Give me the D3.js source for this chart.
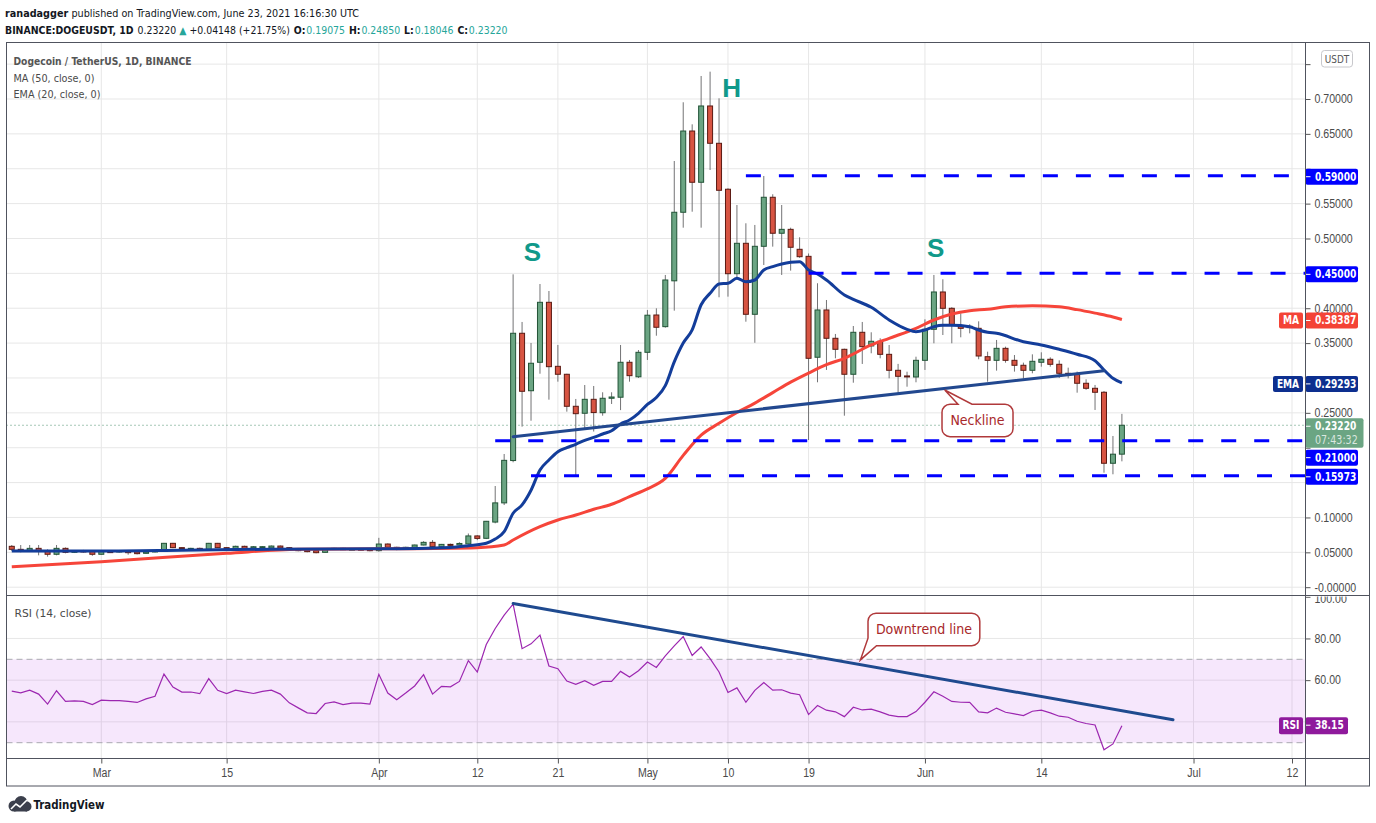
<!DOCTYPE html>
<html>
<head>
<meta charset="utf-8">
<script src="https://cdn.jsdelivr.net/npm/d3@7"></script>
<style>
  html, body { margin: 0; padding: 0; background: #fff; }
  svg { display: block; font-family: "Liberation Sans Narrow", "DejaVu Sans Condensed", "Liberation Sans", sans-serif; }
</style>
</head>
<body>
<svg id="chart" width="1376" height="823"></svg>
<script>
// ---- data ----
// daily candles, Feb 19 .. Jun 23 2021
const firstDay = "2021-02-19";
const lastDay = "2021-06-23";

const opens = [
  0.0586, 0.0543, 0.0528, 0.0557, 0.0524, 0.0472, 0.0557, 0.0500, 0.0520, 0.0510,
  0.0472, 0.0510, 0.0505, 0.0517, 0.0505, 0.0486, 0.0505, 0.0519, 0.0629, 0.0567,
  0.0548, 0.0557, 0.0543, 0.0629, 0.0567, 0.0557, 0.0586, 0.0562, 0.0570, 0.0562,
  0.0590, 0.0567, 0.0548, 0.0533, 0.0524, 0.0500, 0.0543, 0.0557, 0.0540, 0.0545, 0.0538,
  0.0524, 0.0619, 0.0572, 0.0543, 0.0572, 0.0605, 0.0643, 0.0581, 0.0614, 0.0605,
  0.0620, 0.0735, 0.0701, 0.0934, 0.1209, 0.1816, 0.3641, 0.2817, 0.3225, 0.4085,
  0.3167, 0.3053, 0.2594, 0.2494, 0.2694, 0.2502, 0.2709, 0.2724, 0.3225, 0.3017,
  0.3368, 0.3903, 0.3736, 0.4393, 0.5376, 0.6541, 0.5806, 0.6900, 0.6365, 0.5706,
  0.4495, 0.4931, 0.3913, 0.4888, 0.5591, 0.5075, 0.5131, 0.4845, 0.4744, 0.3297,
  0.3975, 0.3569, 0.3411, 0.3053, 0.3655, 0.3459, 0.3526, 0.3339, 0.3110, 0.3029, 0.3014,
  0.3253, 0.3698, 0.4233, 0.3999, 0.3745, 0.3722, 0.3712, 0.3305, 0.3253, 0.3425,
  0.3253, 0.3182, 0.3110, 0.3225, 0.3268, 0.3196, 0.3067, 0.3053, 0.2924, 0.2852,
  0.2795, 0.1777, 0.19075
];
const highs = [
  0.0605, 0.0605, 0.0605, 0.0605, 0.0543, 0.0605, 0.0570, 0.0530, 0.0535, 0.0520,
  0.0520, 0.0520, 0.0530, 0.0530, 0.0510, 0.0515, 0.0530, 0.0635, 0.0635, 0.0575,
  0.0565, 0.0567, 0.0635, 0.0635, 0.0575, 0.0595, 0.0595, 0.0590, 0.0590, 0.0598,
  0.0598, 0.0575, 0.0552, 0.0540, 0.0530, 0.0550, 0.0565, 0.0565, 0.0552, 0.0552, 0.0550,
  0.0708, 0.0629, 0.0580, 0.0580, 0.0610, 0.0660, 0.0676, 0.0620, 0.0625, 0.0645,
  0.0770, 0.0745, 0.0950, 0.1451, 0.1910, 0.4486, 0.3803, 0.3502, 0.4347, 0.4247,
  0.3473, 0.3060, 0.2699, 0.2899, 0.2885, 0.2795, 0.2795, 0.3473, 0.3258, 0.3401,
  0.3974, 0.3999, 0.4477, 0.6111, 0.6953, 0.6637, 0.7330, 0.7392, 0.7010, 0.5720,
  0.5480, 0.5218, 0.5194, 0.5896, 0.5634, 0.5480, 0.5155, 0.5017, 0.4785, 0.4358,
  0.4118, 0.3631, 0.3420, 0.3745, 0.3803, 0.3655, 0.3569, 0.3473, 0.3202, 0.3090, 0.3305,
  0.3841, 0.4477, 0.4415, 0.4015, 0.3927, 0.3770, 0.3812, 0.3377, 0.3545, 0.3449,
  0.3329, 0.3220, 0.3339, 0.3368, 0.3296, 0.3253, 0.3148, 0.3091, 0.2981, 0.2900,
  0.2813, 0.2168, 0.24850
];
const lows = [
  0.0520, 0.0500, 0.0510, 0.0457, 0.0438, 0.0457, 0.0486, 0.0490, 0.0495, 0.0450,
  0.0465, 0.0490, 0.0495, 0.0466, 0.0470, 0.0480, 0.0500, 0.0510, 0.0560, 0.0550,
  0.0540, 0.0530, 0.0538, 0.0562, 0.0545, 0.0550, 0.0550, 0.0555, 0.0560, 0.0558,
  0.0555, 0.0538, 0.0515, 0.0500, 0.0486, 0.0495, 0.0538, 0.0533, 0.0533, 0.0530, 0.0515,
  0.0510, 0.0560, 0.0530, 0.0538, 0.0565, 0.0600, 0.0570, 0.0575, 0.0595, 0.0600,
  0.0610, 0.0675, 0.0690, 0.0916, 0.1178, 0.1791, 0.2302, 0.2387, 0.3061, 0.2689,
  0.2947, 0.2517, 0.15973, 0.2279, 0.2232, 0.2459, 0.2627, 0.2539, 0.2947, 0.3000,
  0.3258, 0.3606, 0.3721, 0.3965, 0.5155, 0.5384, 0.5155, 0.5982, 0.4157, 0.4166,
  0.4430, 0.3807, 0.3505, 0.4620, 0.4883, 0.4477, 0.4539, 0.4722, 0.2110, 0.2938,
  0.3115, 0.3282, 0.2459, 0.2932, 0.3201, 0.3354, 0.3282, 0.2995, 0.2789, 0.2875, 0.2938,
  0.3115, 0.3497, 0.3616, 0.3497, 0.3583, 0.3640, 0.3268, 0.2946, 0.3105, 0.3219,
  0.3091, 0.2990, 0.3067, 0.3162, 0.3162, 0.3000, 0.2994, 0.2789, 0.2830, 0.2541,
  0.1642, 0.1619, 0.18046
];
const closes = [
  0.0543, 0.0524, 0.0557, 0.0524, 0.0472, 0.0557, 0.0500, 0.0520, 0.0505, 0.0472,
  0.0510, 0.0500, 0.0520, 0.0495, 0.0481, 0.0505, 0.0524, 0.0629, 0.0567, 0.0557,
  0.0557, 0.0538, 0.0629, 0.0567, 0.0552, 0.0586, 0.0557, 0.0580, 0.0581, 0.0590,
  0.0562, 0.0543, 0.0524, 0.0510, 0.0495, 0.0543, 0.0557, 0.0538, 0.0545, 0.0538, 0.0530,
  0.0619, 0.0572, 0.0543, 0.0572, 0.0605, 0.0643, 0.0581, 0.0614, 0.0605, 0.0627,
  0.0735, 0.0700, 0.0945, 0.1209, 0.1819, 0.3641, 0.2809, 0.3211, 0.4085, 0.3162,
  0.3053, 0.2594, 0.2488, 0.2694, 0.2504, 0.2709, 0.2727, 0.3225, 0.3033, 0.3368,
  0.3900, 0.3727, 0.4405, 0.5376, 0.6541, 0.5806, 0.6900, 0.6365, 0.5691, 0.4495,
  0.4931, 0.3913, 0.4888, 0.5591, 0.5075, 0.5131, 0.4874, 0.4739, 0.3282, 0.3975,
  0.3569, 0.3411, 0.3053, 0.3655, 0.3449, 0.3526, 0.3339, 0.3110, 0.3024, 0.3015, 0.3253,
  0.3698, 0.4233, 0.3999, 0.3760, 0.3712, 0.3741, 0.3315, 0.3253, 0.3425, 0.3253,
  0.3182, 0.3110, 0.3239, 0.3268, 0.3196, 0.3067, 0.3053, 0.2924, 0.2852, 0.2795,
  0.1777, 0.19072, 0.23220
];

// EMA (20) and MA (50), read as [date, value]
const emaPoints = [
  ["2021-02-19", 0.0520], ["2021-03-01", 0.0519], ["2021-03-10", 0.0530], ["2021-03-20", 0.0545],
  ["2021-04-01", 0.0550], ["2021-04-09", 0.0570], ["2021-04-11", 0.0595], ["2021-04-13", 0.0630],
  ["2021-04-14", 0.0690], ["2021-04-15", 0.0796], ["2021-04-16", 0.1060], ["2021-04-17", 0.1180],
  ["2021-04-18", 0.1390], ["2021-04-19", 0.1680], ["2021-04-20", 0.1824], ["2021-04-21", 0.1943],
  ["2021-04-22", 0.2000], ["2021-04-23", 0.2049], ["2021-04-24", 0.2106], ["2021-04-25", 0.2149],
  ["2021-04-26", 0.2197], ["2021-04-27", 0.2244], ["2021-04-28", 0.2340], ["2021-04-29", 0.2398],
  ["2021-04-30", 0.2494], ["2021-05-01", 0.2620], ["2021-05-02", 0.2720], ["2021-05-03", 0.2890],
  ["2021-05-04", 0.3230], ["2021-05-05", 0.3500], ["2021-05-06", 0.3690], ["2021-05-07", 0.4050],
  ["2021-05-08", 0.4214], ["2021-05-09", 0.4348], ["2021-05-10", 0.4358], ["2021-05-11", 0.4429],
  ["2021-05-12", 0.4380], ["2021-05-13", 0.4405], ["2021-05-14", 0.4548], ["2021-05-15", 0.4596],
  ["2021-05-16", 0.4634], ["2021-05-17", 0.4659], ["2021-05-18", 0.4668], ["2021-05-19", 0.4548],
  ["2021-05-20", 0.4491], ["2021-05-21", 0.4405], ["2021-05-23", 0.4190], ["2021-05-24", 0.4128],
  ["2021-05-26", 0.4013], ["2021-05-28", 0.3832], ["2021-05-30", 0.3698], ["2021-05-31", 0.3664],
  ["2021-06-01", 0.3688], ["2021-06-02", 0.3735], ["2021-06-03", 0.3755], ["2021-06-04", 0.3755],
  ["2021-06-06", 0.3735], ["2021-06-07", 0.3688], ["2021-06-08", 0.3655], ["2021-06-09", 0.3640],
  ["2021-06-12", 0.3520], ["2021-06-14", 0.3473], ["2021-06-16", 0.3411], ["2021-06-18", 0.3340],
  ["2021-06-20", 0.3248], ["2021-06-21", 0.3115], ["2021-06-22", 0.2995], ["2021-06-23", 0.29293]
];
const maPoints = [
  ["2021-02-19", 0.0294], ["2021-03-01", 0.0366], ["2021-03-15", 0.0486], ["2021-03-23", 0.0543],
  ["2021-04-01", 0.0550], ["2021-04-12", 0.0567], ["2021-04-15", 0.0605], ["2021-04-16", 0.0677],
  ["2021-04-19", 0.0868], ["2021-04-21", 0.0964], ["2021-04-23", 0.1035], ["2021-04-25", 0.1117],
  ["2021-04-27", 0.1189], ["2021-04-29", 0.1300], ["2021-05-01", 0.1410], ["2021-05-03", 0.1560],
  ["2021-05-05", 0.1890], ["2021-05-07", 0.2180], ["2021-05-09", 0.2350], ["2021-05-11", 0.2505],
  ["2021-05-13", 0.2640], ["2021-05-15", 0.2790], ["2021-05-17", 0.2940], ["2021-05-19", 0.3070],
  ["2021-05-21", 0.3190], ["2021-05-23", 0.3282], ["2021-05-26", 0.3473], ["2021-05-28", 0.3569],
  ["2021-05-31", 0.3712], ["2021-06-02", 0.3831], ["2021-06-04", 0.3917], ["2021-06-06", 0.3965],
  ["2021-06-08", 0.3985], ["2021-06-10", 0.4020], ["2021-06-13", 0.4035], ["2021-06-16", 0.4020],
  ["2021-06-18", 0.3980], ["2021-06-20", 0.3930], ["2021-06-22", 0.3875], ["2021-06-23", 0.38387]
];

// RSI (14), one value per candle
const rsiValues = [
  54.7, 53.9, 55.2, 53.3, 48.5, 54.9, 49.8, 50.1, 49.8, 48.3,
  50.4, 50.2, 50.2, 49.8, 49.3, 51.0, 52.3, 62.9, 56.7, 54.3, 54.3, 53.5, 60.7, 55.1, 53.6,
  55.2, 54.4, 53.6, 54.6, 55.2, 53.3, 49.1, 46.7, 44.3, 44.0, 48.8, 49.6, 48.3, 49.0, 49.0, 48.5,
  62.8, 53.8, 50.6, 53.8, 57.2, 62.6, 53.3, 57.0, 56.8, 59.4, 69.4, 63.9, 77.1, 84.8, 91.2,
  96.5, 75.1, 77.4, 81.6, 66.8, 65.5, 59.6, 58.0, 59.7, 57.5, 59.4, 59.4, 64.2, 61.5, 64.5,
  68.7, 66.1, 71.6, 76.4, 80.9, 71.8, 75.9, 70.3, 63.9, 54.1, 56.3, 49.4, 55.1, 58.8, 55.2,
  55.4, 53.8, 53.0, 43.5, 47.8, 45.6, 44.8, 42.5, 47.0, 45.7, 46.1, 44.8, 43.2, 42.5, 42.5, 44.9,
  49.4, 54.4, 52.3, 49.8, 49.4, 49.3, 44.8, 44.3, 46.6, 44.6, 43.8, 43.0, 45.1, 45.6, 44.3,
  42.7, 42.2, 40.3, 39.2, 38.5, 26.6, 29.4, 38.15
];

// horizontal levels drawn on the chart
const levelPrices = [0.59, 0.45, 0.21, 0.15973];
const levelStarts = ["2021-05-12", "2021-05-19", "2021-04-14", "2021-04-18"];

// trend lines
const neckline = [["2021-04-16", 0.2158], ["2021-06-21", 0.3105]];
const rsiDowntrend = [["2021-04-16", 96.8], ["2021-06-28T17:00:00Z", 41.0]];

// pattern letters
const patternLabels = ["S", "H", "S"];
const patternDates = ["2021-04-18T04:00:00Z", "2021-05-10T10:00:00Z", "2021-06-02T05:00:00Z"];
const patternPrices = [0.4807, 0.716, 0.4864];

// axis ticks
const priceTicks = [0, 0.05, 0.1, 0.15, 0.2, 0.25, 0.3, 0.35, 0.4, 0.45, 0.5, 0.55, 0.6, 0.65, 0.7, 0.75];
const rsiTicks = [20, 40, 60, 80, 100];
const rsiGrid = [40, 60, 80];
const timeTicks = ["2021-03-01", "2021-03-15", "2021-04-01", "2021-04-12", "2021-04-21", "2021-05-01",
  "2021-05-10", "2021-05-19", "2021-06-01", "2021-06-14", "2021-07-01", "2021-07-12"];
const timeTickLabels = ["Mar", "15", "Apr", "12", "21", "May", "10", "19", "Jun", "14", "Jul", "12"];

// ---- layout ----
const left = 6.5, axisX = 1305.5, right = 1369.5;
const mainTop = 42.5, mainBottom = 595.5, rsiBottom = 758.5, timeBottom = 786;

const upFill = "#6ba583", downFill = "#d75442";
const upLine = "#225437", downLine = "#5b1a13";
const teal = "#26a69a";

const svg = d3.select("#chart");

// the reference uses a condensed face; squeeze the fallback to the same widths
function squeeze(sel, k) {
  sel.each(function () {
    const L = this.getComputedTextLength();
    this.setAttribute("textLength", (L * k).toFixed(1));
    this.setAttribute("lengthAdjust", "spacingAndGlyphs");
  });
}
function fitWidth(sel, w) {
  sel.attr("textLength", w).attr("lengthAdjust", "spacingAndGlyphs");
}
// a line of differently styled pieces, laid out one after another (only ever shrunk a little)
function textRun(g, x0, yb, parts, total) {
  const nodes = parts.map(p => {
    const t = g.append("text").attr("y", yb).text(p.t);
    if (p.w) t.attr("font-weight", p.w);
    if (p.c) t.attr("fill", p.c);
    return t;
  });
  const widths = nodes.map(n => n.node().getComputedTextLength());
  const gaps = parts.map(p => p.gap || 0);
  const k = Math.min(1, total / (d3.sum(widths) + d3.sum(gaps)));
  let cx = x0;
  nodes.forEach((n, i) => {
    cx += gaps[i];
    n.attr("x", cx.toFixed(1));
    if (k < 1) n.attr("textLength", (widths[i] * k).toFixed(1)).attr("lengthAdjust", "spacingAndGlyphs");
    cx += widths[i] * k;
  });
}

const x = d3.scaleUtc()
  .domain([new Date("2021-03-01"), new Date("2021-07-12")])
  .range([101.3, 1292]);
const y = d3.scaleLinear().domain([0, 0.7]).range([587.2, 99]);
const yr = d3.scaleLinear().domain([30, 70]).range([742.7, 659.3]);

const days = d3.utcDay.range(new Date(firstDay), d3.utcDay.offset(new Date(lastDay), 1));
const candles = days.map((d, i) => ({
  date: d, o: opens[i], h: highs[i], l: lows[i], c: closes[i], rsi: rsiValues[i]
}));
const last = candles[candles.length - 1];
const prev = candles[candles.length - 2];

const defs = svg.append("defs");
defs.append("clipPath").attr("id", "clip-main")
  .append("rect").attr("x", left).attr("y", mainTop).attr("width", axisX - left).attr("height", mainBottom - mainTop);
defs.append("clipPath").attr("id", "clip-rsi")
  .append("rect").attr("x", left).attr("y", mainBottom).attr("width", axisX - left).attr("height", rsiBottom - mainBottom);
defs.append("clipPath").attr("id", "clip-main-axis")
  .append("rect").attr("x", axisX).attr("y", mainTop).attr("width", right - axisX).attr("height", mainBottom - mainTop);
defs.append("clipPath").attr("id", "clip-rsi-axis")
  .append("rect").attr("x", axisX).attr("y", mainBottom + 1).attr("width", right - axisX).attr("height", rsiBottom - mainBottom - 1);

// ---- grid ----
const grid = svg.append("g").attr("stroke", "#e7e7e7").attr("stroke-width", 1);
grid.selectAll(".vg").data(timeTicks).join("line")
  .attr("x1", d => x(new Date(d))).attr("x2", d => x(new Date(d)))
  .attr("y1", mainTop).attr("y2", rsiBottom);
grid.append("g").attr("clip-path", "url(#clip-main)")
  .selectAll("line").data(priceTicks).join("line")
  .attr("x1", left).attr("x2", axisX).attr("y1", d => y(d)).attr("y2", d => y(d));
grid.selectAll(".rg").data(rsiGrid).join("line")
  .attr("x1", left).attr("x2", axisX).attr("y1", d => yr(d)).attr("y2", d => yr(d));

// ---- RSI pane ----
const rsiG = svg.append("g").attr("clip-path", "url(#clip-rsi)");
rsiG.append("rect")
  .attr("x", left).attr("width", axisX - left)
  .attr("y", yr(70)).attr("height", yr(30) - yr(70))
  .attr("fill", "rgba(180,60,230,0.12)");
rsiG.selectAll(".band").data([70, 30]).join("line")
  .attr("x1", left).attr("x2", axisX).attr("y1", d => yr(d)).attr("y2", d => yr(d))
  .attr("stroke", "#a9a9b0").attr("stroke-dasharray", "6,4");
rsiG.append("path")
  .datum(candles)
  .attr("fill", "none").attr("stroke", "#9c27b0").attr("stroke-width", 1.2)
  .attr("d", d3.line().x(d => x(d.date)).y(d => yr(d.rsi)));
rsiG.append("line")
  .attr("x1", x(new Date(rsiDowntrend[0][0]))).attr("y1", yr(rsiDowntrend[0][1]))
  .attr("x2", x(new Date(rsiDowntrend[1][0]))).attr("y2", yr(rsiDowntrend[1][1]))
  .attr("stroke", "#1f4a8f").attr("stroke-width", 3).attr("stroke-linecap", "round");

// ---- main pane ----
const mainG = svg.append("g").attr("clip-path", "url(#clip-main)");

mainG.append("line")
  .attr("x1", left).attr("x2", axisX).attr("y1", y(last.c)).attr("y2", y(last.c))
  .attr("stroke", "#4c8f6e").attr("stroke-dasharray", "1,3");

const candleG = mainG.append("g");
candleG.selectAll(".wick").data(candles).join("line")
  .attr("x1", d => x(d.date)).attr("x2", d => x(d.date))
  .attr("y1", d => y(d.h)).attr("y2", d => y(d.l))
  .attr("stroke", "#737375").attr("stroke-width", 1);
candleG.selectAll(".body").data(candles).join("rect")
  .attr("x", d => x(d.date) - 2.5).attr("width", 5)
  .attr("y", d => y(Math.max(d.o, d.c)))
  .attr("height", d => Math.max(1, Math.abs(y(d.o) - y(d.c))))
  .attr("fill", d => d.c >= d.o ? upFill : downFill)
  .attr("stroke", d => d.c >= d.o ? upLine : downLine)
  .attr("stroke-width", 1);

const lineGen = d3.line()
  .x(d => x(new Date(d[0]))).y(d => y(d[1]))
  .curve(d3.curveMonotoneX);
mainG.append("path").datum(maPoints)
  .attr("fill", "none").attr("stroke", "#f6453a").attr("stroke-width", 3)
  .attr("d", lineGen);
mainG.append("path").datum(emaPoints)
  .attr("fill", "none").attr("stroke", "#133d9a").attr("stroke-width", 3)
  .attr("d", lineGen);

mainG.append("line")
  .attr("x1", x(new Date(neckline[0][0]))).attr("y1", y(neckline[0][1]))
  .attr("x2", x(new Date(neckline[1][0]))).attr("y2", y(neckline[1][1]))
  .attr("stroke", "#22488f").attr("stroke-width", 3).attr("stroke-linecap", "round");

mainG.selectAll(".level").data(levelPrices).join("line")
  .attr("x1", (d, i) => x(new Date(levelStarts[i]))).attr("x2", axisX)
  .attr("y1", d => y(d)).attr("y2", d => y(d))
  .attr("stroke", "#0000ff").attr("stroke-width", 3).attr("stroke-dasharray", "15,18");

mainG.selectAll(".pattern").data(patternLabels).join("text")
  .attr("x", (d, i) => x(new Date(patternDates[i])))
  .attr("y", (d, i) => y(patternPrices[i]))
  .attr("text-anchor", "middle").attr("dominant-baseline", "central")
  .attr("font-family", "Liberation Sans, Arial, sans-serif")
  .attr("font-weight", "bold").attr("font-size", 26)
  .attr("fill", "#10998a")
  .text(d => d);

// callouts
function callout(g, tip, text, box, tail) {
  const [bx, by, bw, bh] = box, r = 8;
  let p;
  if (tail === "top") {
    p = `M${bx + r},${by} H${bx + 16} L${tip[0]},${tip[1]} L${bx + 30},${by} H${bx + bw - r}` +
      ` A${r},${r} 0 0 1 ${bx + bw},${by + r} V${by + bh - r} A${r},${r} 0 0 1 ${bx + bw - r},${by + bh}` +
      ` H${bx + r} A${r},${r} 0 0 1 ${bx},${by + bh - r} V${by + r} A${r},${r} 0 0 1 ${bx + r},${by} Z`;
  } else {
    p = `M${bx + r},${by} H${bx + bw - r} A${r},${r} 0 0 1 ${bx + bw},${by + r} V${by + bh - r}` +
      ` A${r},${r} 0 0 1 ${bx + bw - r},${by + bh} H${bx + 8.5} L${tip[0]},${tip[1]} L${bx},${by + bh - 7.5}` +
      ` V${by + r} A${r},${r} 0 0 1 ${bx + r},${by} Z`;
  }
  g.append("path").attr("d", p)
    .attr("fill", "#fff").attr("stroke", "#b0393b").attr("stroke-width", 1.5);
  g.append("text").attr("x", bx + bw / 2).attr("y", by + bh / 2)
    .attr("text-anchor", "middle").attr("dominant-baseline", "central")
    .attr("font-size", 14).attr("fill", "#a8282a").text(text);
}
const neckTip = [x(new Date("2021-06-03T05:00:00Z")), y(0.2828)];
callout(svg.append("g"), neckTip, "Neckline",
  [neckTip[0] - 2.7, neckTip[1] + 14.3, 71, 32.4], "top");
const downTip = [x(new Date("2021-05-24T19:00:00Z")), yr(69.7)];
callout(svg.append("g"), downTip, "Downtrend line",
  [downTip[0] + 7.6, downTip[1] - 46.7, 111.8, 32.4], "bottom");

// ---- right-axis value boxes (positions first, so covered tick labels can be dropped) ----
const fmt5 = d3.format(".5f");
const boxes = [
  { v: maPoints[maPoints.length - 1][1], color: "#f44336", tag: "MA", tagW: 24 },
  { v: emaPoints[emaPoints.length - 1][1], color: "#0d2f8f", tag: "EMA", tagW: 30 },
  { v: last.c, sub: "07:43:32", color: upFill, two: true },
  ...levelPrices.map(p => ({ v: p, color: "#0000ff" }))
].map(b => ({ ...b, label: fmt5(b.v), top: y(b.v) - 7, h: b.two ? 29.4 : 16 }));
boxes.sort((a, b) => a.top - b.top);
for (let i = 1; i < boxes.length; i++) {
  const p = boxes[i - 1];
  if (boxes[i].top < p.top + p.h + 2) boxes[i].top = p.top + p.h + 2;
}
const rsiBox = { top: yr(last.rsi) - 8.5, h: 17, color: "#8f1a9c", label: d3.format(".2f")(last.rsi), tag: "RSI", tagW: 24 };
const usdtBadge = { top: 50.5, h: 16.5 };
const covered = (ly, list) => list.some(b => Math.min(ly + 4.5, b.top + b.h) - Math.max(ly - 4.5, b.top) > 1);

// ---- axes ----
const axisText = "#4a4a4a";
const priceAxis = svg.append("g")
  .attr("clip-path", "url(#clip-main-axis)")
  .append("g")
  .attr("transform", `translate(${axisX},0)`)
  .call(d3.axisRight(y).tickValues(priceTicks).tickSize(5).tickPadding(4)
    .tickFormat(d => d === 0 ? "-0.00000" : fmt5(d)));
const rsiAxis = svg.append("g")
  .attr("clip-path", "url(#clip-rsi-axis)")
  .append("g")
  .attr("transform", `translate(${axisX},0)`)
  .call(d3.axisRight(yr).tickValues(rsiTicks).tickSize(5).tickPadding(4).tickFormat(d3.format(".2f")));
const timeAxis = svg.append("g")
  .attr("transform", `translate(0,${rsiBottom})`)
  .call(d3.axisBottom(x).tickValues(timeTicks.map(d => new Date(d))).tickSize(5).tickPadding(5)
    .tickFormat((d, i) => timeTickLabels[i]));
[priceAxis, rsiAxis, timeAxis].forEach(a => {
  a.select(".domain").remove();
  a.selectAll(".tick line").attr("stroke", "#555");
  a.selectAll(".tick text").attr("fill", axisText).attr("font-size", 12)
    .attr("font-family", null);
  squeeze(a.selectAll(".tick text"), 0.88);
});
priceAxis.selectAll(".tick text").filter(d => covered(y(d), [...boxes, usdtBadge])).remove();
rsiAxis.selectAll(".tick text").filter(d => covered(yr(d), [rsiBox])).remove();
// the 100.00 label sits half under the pane border; nudge it clear of -0.00000
rsiAxis.selectAll(".tick text").filter(d => d === 100).attr("dy", "0.47em");

const boxG = svg.append("g").attr("font-size", 12).attr("font-weight", "bold");
function valueBox(b, w) {
  boxG.append("rect").attr("x", axisX).attr("y", b.top).attr("width", w).attr("height", b.h)
    .attr("rx", 2).attr("fill", b.color);
  boxG.append("line").attr("x1", axisX).attr("x2", axisX + 5)
    .attr("y1", b.top + 8).attr("y2", b.top + 8).attr("stroke", "#fff");
  squeeze(boxG.append("text").attr("x", axisX + 9.5).attr("y", b.top + 8)
    .attr("dominant-baseline", "central").attr("fill", "#fff").text(b.label), 0.84);
  if (b.sub) {
    squeeze(boxG.append("text").attr("x", axisX + 9.5).attr("y", b.top + 21.5)
      .attr("dominant-baseline", "central").attr("fill", "rgba(255,255,255,0.75)")
      .attr("font-weight", "normal").text(b.sub), 0.88);
  }
  if (b.tag) {
    boxG.append("rect").attr("x", axisX - 2.5 - b.tagW).attr("y", b.top).attr("width", b.tagW).attr("height", b.h)
      .attr("rx", 2).attr("fill", b.color);
    squeeze(boxG.append("text").attr("x", axisX - 2.5 - b.tagW / 2).attr("y", b.top + 8)
      .attr("text-anchor", "middle").attr("dominant-baseline", "central").attr("fill", "#fff").text(b.tag), 0.84);
  }
}
boxes.forEach(b => valueBox(b, b.two ? 58 : 52.5));
valueBox(rsiBox, 42.5);

// USDT badge
svg.append("rect").attr("x", 1321.5).attr("y", usdtBadge.top).attr("width", 31).attr("height", usdtBadge.h).attr("rx", 3)
  .attr("fill", "#fff").attr("stroke", "#c8c8cc");
squeeze(svg.append("text").attr("x", 1337).attr("y", 59).attr("text-anchor", "middle").attr("dominant-baseline", "central")
  .attr("font-size", 11).attr("fill", "#555").text("USDT"), 0.9);

// ---- frame ----
const frame = svg.append("g").attr("stroke", "#50535e").attr("stroke-width", 1).attr("fill", "none");
frame.append("rect").attr("x", left).attr("y", mainTop).attr("width", right - left).attr("height", timeBottom - mainTop);
frame.append("line").attr("x1", axisX).attr("x2", axisX).attr("y1", mainTop).attr("y2", timeBottom);
frame.append("line").attr("x1", left).attr("x2", right).attr("y1", mainBottom).attr("y2", mainBottom);
frame.append("line").attr("x1", left).attr("x2", right).attr("y1", rsiBottom).attr("y2", rsiBottom);

// ---- texts ----
const head = svg.append("g").attr("fill", "#131722");
textRun(head.append("g").attr("font-size", 10.8), 5, 17, [
  { t: "ranadagger", w: "bold" },
  { t: "published on TradingView.com, June 23, 2021 16:16:30 UTC", gap: 3.2 }
], 354);
const chg = last.c - prev.c;
textRun(head.append("g").attr("font-size", 10.6), 5, 34, [
  { t: "BINANCE:DOGEUSDT, 1D", w: "bold" },
  { t: fmt5(last.c), gap: 4 },
  { t: "\u25B2", c: teal, gap: 3 },
  { t: "+" + fmt5(chg) + " (+" + d3.format(".2f")(chg / prev.c * 100) + "%)", gap: 3 },
  { t: "O:", w: "bold", gap: 4 }, { t: fmt5(last.o), c: teal, gap: 0.8 },
  { t: "H:", w: "bold", gap: 4 }, { t: fmt5(last.h), c: teal, gap: 0.8 },
  { t: "L:", w: "bold", gap: 4 }, { t: fmt5(last.l), c: teal, gap: 0.8 },
  { t: "C:", w: "bold", gap: 4 }, { t: fmt5(last.c), c: teal, gap: 0.8 }
], 502);

const legend = svg.append("g").attr("font-size", 11).attr("fill", "#4a4a4a");
fitWidth(legend.append("text").attr("x", 13.5).attr("y", 65).attr("font-weight", "bold").attr("fill", "#555")
  .text("Dogecoin / TetherUS, 1D, BINANCE"), 178);
fitWidth(legend.append("text").attr("x", 13.5).attr("y", 81.5).text("MA (50, close, 0)"), 81);
fitWidth(legend.append("text").attr("x", 13.5).attr("y", 98).text("EMA (20, close, 0)"), 87);
fitWidth(legend.append("text").attr("x", 14.5).attr("y", 617).text("RSI (14, close)"), 77);

// TradingView mark
const logo = svg.append("g");
logo.append("circle").attr("cx", 14).attr("cy", 806).attr("r", 5.5).attr("fill", "#3b3f4c");
logo.append("circle").attr("cx", 21).attr("cy", 802.5).attr("r", 6.5).attr("fill", "#3b3f4c");
logo.append("circle").attr("cx", 26.5).attr("cy", 806.5).attr("r", 5).attr("fill", "#3b3f4c");
logo.append("rect").attr("x", 14).attr("y", 805).attr("width", 13).attr("height", 6.5).attr("fill", "#3b3f4c");
logo.append("polyline").attr("points", "11,809 16,804 20,807 27,800")
  .attr("fill", "none").attr("stroke", "#fff").attr("stroke-width", 1.6);
fitWidth(logo.append("text").attr("x", 33.5).attr("y", 809).attr("font-size", 13).attr("font-weight", "bold")
  .attr("fill", "#131722").text("TradingView"), 71);
</script>
</body>
</html>
